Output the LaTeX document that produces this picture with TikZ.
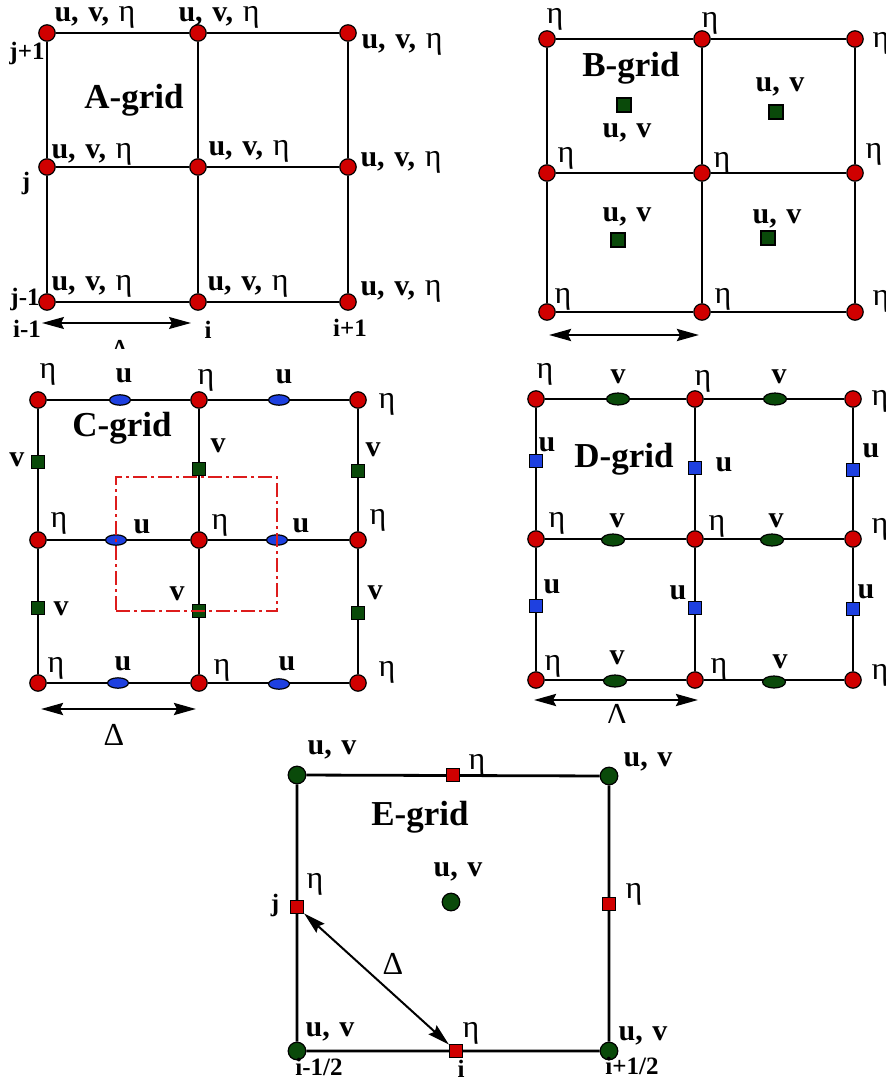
\documentclass[tikz,border=0pt]{standalone}
\usepackage{fontspec}
\setmainfont{Liberation Serif}
\usetikzlibrary{arrows.meta, shapes.geometric, backgrounds, positioning}
\definecolor{etaRed}{HTML}{D00000}
\definecolor{uBlue}{HTML}{1E40E0}
\definecolor{uvGreen}{HTML}{0A4A0A}
\definecolor{cellRed}{HTML}{DD1C1C}
\newcommand{\etaglyph}{{\mdseries\fontsize{16}{18}\selectfont η}}
\newcommand{\uvh}{u,\hspace{0.32em}v,\hspace{0.32em}\etaglyph}
\newcommand{\uvo}{u,\hspace{0.32em}v}
\tikzset{
  gridline/.style={line width=1.4pt, black},
  hdot/.style={circle, draw=black, line width=0.6pt, fill=etaRed, minimum size=8.2pt, inner sep=0pt},
  uvdot/.style={hdot, fill=uvGreen, minimum size=8.8pt},
  vsq/.style={rectangle, draw=black, line width=0.6pt, fill=uvGreen, minimum size=6.5pt, inner sep=0pt},
  usq/.style={vsq, fill=uBlue},
  hsq/.style={vsq, fill=etaRed},
  uell/.style={ellipse, draw=black, line width=0.6pt, fill=uBlue, minimum width=10.5pt, minimum height=5.2pt, inner sep=0pt},
  vell/.style={uell, fill=uvGreen, minimum width=11.5pt, minimum height=6pt},
  lbl/.style={font=\fontsize{15}{17}\selectfont\bfseries, inner sep=0pt},
  etalbl/.style={font=\fontsize{16}{18}\selectfont, inner sep=0pt},
  idx/.style={font=\fontsize{12.5}{14}\selectfont\bfseries, inner sep=0pt},
  gridtitle/.style={font=\fontsize{17.5}{20}\selectfont\bfseries, inner sep=0pt},
  dlt/.style={font=\fontsize{16}{18}\selectfont, inner sep=0pt},
  spanarrow/.style={{Stealth[length=11pt,width=6pt,inset=1.5pt]}-{Stealth[length=11pt,width=6pt,inset=1.5pt]}, line width=1.4pt},
  spanthin/.style={spanarrow, line width=0.8pt},
  cellbox/.style={draw=cellRed, line width=1pt, dash pattern=on 7pt off 2pt on 1.5pt off 2pt,
    minimum width=80.5pt, minimum height=67pt, inner sep=0pt}
}

\begin{document}
\begin{tikzpicture}[x=0.5pt, y=-0.5pt]
  \useasboundingbox (0,0) rectangle (886,1085);

  % A-grid
  \foreach \r/\y in {1/33, 2/167, 3/302}
    \foreach \c/\x in {1/47, 2/198, 3/348}
      \node[hdot] (A\r\c) at (\x,\y) {};
  \foreach \k/\x/\y in {11/95/17, 12/219/17, 13/402/44, 21/92/154, 22/249/151, 23/401/162, 31/92/286, 32/248/286, 33/401/291}
    \node[lbl] (Al\k) at (\x,\y) {\uvh};
  \node[gridtitle] (Atitle) at (134,100) {A-grid};
  \node[idx] (Aj1) at (27,53) {j+1};
  \node[idx] (Aj2) at (26,183) {j};
  \node[idx] (Aj3) at (25,299) {j-1};
  \node[idx] (Ai1) at (27,329) {i-1};
  \node[idx] (Ai2) at (208,330) {i};
  \node[idx] (Ai3) at (350,328) {i+1};
  \coordinate (Aspanl) at (42,323);
  \coordinate (Aspanr) at (191,323);
  \draw[spanthin] (Aspanl) -- (Aspanr);
  \begin{scope}
    \clip (100,330) rectangle (140,348);
    \node[dlt] (Adelta) at (120,351) {Δ};
  \end{scope}

  % B-grid
  \foreach \r/\y in {1/39, 2/173, 3/312}
    \foreach \c/\x in {1/547, 2/702, 3/855}
      \node[hdot] (B\r\c) at (\x,\y) {};
  \foreach \k/\x/\y in {11/555/19, 12/710/23, 13/881/43, 21/566/158, 22/722/163, 23/874/154, 31/563/299, 32/723/299, 33/881/301}
    \node[etalbl] (Bh\k) at (\x,\y) {η};
  \foreach \k/\x/\y in {1/624/105, 2/776/112, 3/618/240, 4/768/238}
    \node[vsq, minimum size=7pt] (Buv\k) at (\x,\y) {};
  \foreach \k/\x/\y in {1/627/133, 2/780/87, 3/627/217, 4/777/219}
    \node[lbl] (Bl\k) at (\x,\y) {\uvo};
  \node[gridtitle] (Btitle) at (631,68) {B-grid};
  \coordinate (Bspanl) at (549,335);
  \coordinate (Bspanr) at (699,335);
  \draw[spanarrow] (Bspanl) -- (Bspanr);

  % C-grid
  \foreach \r/\y in {1/400, 2/540, 3/683}
    \foreach \c/\x in {1/38, 2/199, 3/358}
      \node[hdot] (C\r\c) at (\x,\y) {};
  \foreach \k/\x/\y in {11/120/400, 12/279/400, 21/116/540, 22/277/540, 31/118/683, 32/279/684}
    \node[uell] (Cu\k) at (\x,\y) {};
  \foreach \k/\x/\y in {11/38/462, 12/199/469, 13/358/471, 21/38/608, 22/199/611, 23/358/613}
    \node[vsq, minimum size=6.2pt] (Cv\k) at (\x,\y) {};
  \foreach \k/\x/\y in {11/48/374, 12/206/380, 13/387/404, 21/59/523, 22/220/525, 23/378/520, 31/56/668, 32/222/670, 33/387/672}
    \node[etalbl] (Ch\k) at (\x,\y) {η};
  \foreach \k/\x/\y in {11/124/376, 12/284/377, 21/142/527, 22/301/526, 31/123/664, 32/287/664}
    \node[lbl] (Cul\k) at (\x,\y) {u};
  \foreach \k/\x/\y in {11/17/460, 12/218/446, 13/373/450, 21/61/609, 22/177/594, 23/375/593}
    \node[lbl] (Cvl\k) at (\x,\y) {v};
  \node[gridtitle] (Ctitle) at (122,428) {C-grid};
  \coordinate (Cspanl) at (41,709);
  \coordinate (Cspanr) at (196,709);
  \draw[spanarrow] (Cspanl) -- (Cspanr);
  \node[dlt] (Cdelta) at (114,735) {Δ};

  % D-grid
  \foreach \r/\y in {1/399, 2/539, 3/680}
    \foreach \c/\x in {1/536, 2/695, 3/853}
      \node[hdot] (D\r\c) at (\x,\y) {};
  \foreach \k/\x/\y in {11/618/399, 12/775/399, 21/613/540, 22/772/540, 31/615/681, 32/774/682}
    \node[vell] (Dv\k) at (\x,\y) {};
  \foreach \k/\x/\y in {11/536/461, 12/695/468, 13/853/470, 21/536/606, 22/695/608, 23/853/609}
    \node[usq, minimum size=6.2pt] (Du\k) at (\x,\y) {};
  \foreach \k/\x/\y in {11/545/374, 12/703/381, 13/880/401, 21/557/523, 22/717/526, 23/880/529, 31/553/666, 32/719/669, 33/880/675}
    \node[etalbl] (Dh\k) at (\x,\y) {η};
  \foreach \k/\x/\y in {11/618/377, 12/779/377, 21/617/521, 22/776/521, 31/617/658, 32/780/662}
    \node[lbl] (Dvl\k) at (\x,\y) {v};
  \foreach \k/\x/\y in {11/547/445, 12/724/465, 13/871/451, 21/552/587, 22/678/593, 23/866/592}
    \node[lbl] (Dul\k) at (\x,\y) {u};
  \node[gridtitle] (Dtitle) at (624,459) {D-grid};
  \coordinate (Dspanl) at (534,700);
  \coordinate (Dspanr) at (698,700);
  \draw[spanarrow] (Dspanl) -- (Dspanr);
  \begin{scope}
    \clip (590,700) rectangle (640,722);
    \node[dlt] (Ddelta) at (617,715) {Δ};
  \end{scope}

  % E-grid
  \foreach \k/\x/\y in {TL/297/775, TR/609/776, BR/609/1051, BL/297/1051, M/451/902}
    \node[uvdot] (E\k) at (\x,\y) {};
  \foreach \k/\x/\y in {t/453/775, l/297/907, r/609/904, b/456/1051}
    \node[hsq] (E\k) at (\x,\y) {};
  \foreach \k/\x/\y in {TL/332/750, TR/648/762, M/458/872, BL/330/1032, BR/643/1036}
    \node[lbl] (El\k) at (\x,\y) {\uvo};
  \foreach \k/\x/\y in {t/477/765, l/315/884, r/634/894, b/471/1033}
    \node[etalbl] (Eh\k) at (\x,\y) {η};
  \node[gridtitle] (Etitle) at (420,817) {E-grid};
  \node[idx] (Ej) at (275,905) {j};
  \node[idx] (Ei1) at (319,1067) {i-1/2};
  \node[idx] (Ei2) at (461,1069) {i};
  \node[idx] (Ei3) at (632,1066) {i+1/2};
  \draw[spanarrow, line width=1pt] (El) -- (Eb);
  \node[dlt] (Edelta) at (393,964) {Δ};

  % grid lines under the markers
  \begin{scope}[on background layer]
    \foreach \g in {A,B,C,D}{
      \foreach \r in {1,2,3} \draw[gridline] (\g\r1) -- (\g\r2) -- (\g\r3);
      \foreach \c in {1,2,3} \draw[gridline] (\g1\c) -- (\g2\c) -- (\g3\c);
    }
    \draw[gridline] (ETL) -- (ETR) -- (EBR) -- (EBL) -- (ETL);
  \end{scope}

  % C-grid control cell
  \node[cellbox] (Ccell) at (196.5,544) {};
\end{tikzpicture}
\end{document}
